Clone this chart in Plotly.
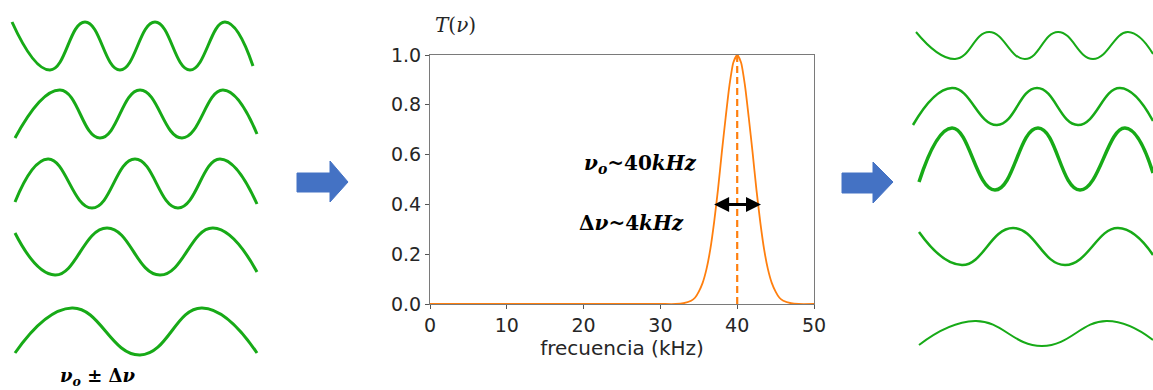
import plotly.graph_objects as go

# ---------------- data: transmission curve T(nu) ----------------
freq_khz = [0, 5, 10, 15, 20, 25, 30, 32, 33, 34, 34.5, 35, 35.5, 36, 36.5, 37, 37.5, 38, 38.5,
            39, 39.5, 40, 40.5, 41, 41.5, 42, 42.5, 43, 43.5, 44, 44.5, 45, 45.5, 46, 47, 48, 50]
transmission = [0, 0, 0, 0, 0, 0, 0, 0, 0.003, 0.013, 0.025, 0.05, 0.085, 0.14, 0.22, 0.33, 0.46,
                0.61, 0.75, 0.88, 0.97, 1.0, 0.97, 0.88, 0.75, 0.61, 0.46, 0.33, 0.22, 0.14, 0.085,
                0.05, 0.025, 0.013, 0.003, 0, 0]
center_khz = 40
band_lo, band_hi, band_level = 36.8, 43.1, 0.4
x_ticks = [0, 10, 20, 30, 40, 50]
y_ticks = [0.0, 0.2, 0.4, 0.6, 0.8, 1.0]

# ---------------- illustration: input waves (left), read as extrema in page pixels ----------------
left_waves = [
    ([12, 50, 85, 120, 155, 190, 225, 253], [22, 70, 22, 70, 22, 70, 22, 66]),
    ([15, 60, 100, 140, 182, 223, 257], [138, 90, 138, 90, 138, 90, 134]),
    ([15, 48, 92, 135, 178, 220, 257], [202, 159, 208, 159, 208, 159, 204]),
    ([15, 55, 107, 160, 213, 257], [233, 275, 228, 275, 228, 272]),
    ([15, 72, 140, 202, 257], [353, 308, 355, 308, 353]),
]
left_widths = [3, 3, 3, 3, 3]

# output waves (right)
right_waves = [
    ([916, 955, 989, 1025, 1058, 1093, 1128, 1153], [32, 59, 32, 59, 32, 59, 32, 54]),
    ([913, 952, 997, 1037, 1078, 1120, 1153], [125, 88, 125, 88, 125, 88, 121]),
    ([919, 952, 995, 1038, 1080, 1125, 1153], [182, 128, 190, 128, 190, 128, 173]),
    ([919, 962, 1013, 1065, 1118, 1153], [232, 265, 228, 265, 228, 255]),
    ([919, 975, 1042, 1107, 1153], [345, 321, 346, 321, 340]),
]
right_widths = [2, 2.5, 3.5, 2.5, 2]

# block arrows (page pixels)
arrow1_x = [297, 330, 330, 348, 330, 330, 297, 297]
arrow1_y = [173, 173, 161, 182, 202, 192, 192, 173]
arrow2_x = [842, 873, 873, 893, 873, 873, 842, 842]
arrow2_y = [173, 173, 162, 182, 203, 193, 193, 173]

W, H = 1153, 390
GREEN = "#17aa17"
ORANGE = "#ff7f0e"
BLUE = "#4472c4"
TXT = "#262626"

fig = go.Figure()

# central chart
fig.add_trace(go.Scatter(x=freq_khz, y=transmission, mode="lines",
                         line=dict(color=ORANGE, width=1.8, shape="spline", smoothing=0.6),
                         cliponaxis=False, xaxis="x", yaxis="y", hoverinfo="skip"))
fig.add_trace(go.Scatter(x=[center_khz, center_khz], y=[0, 1], mode="lines",
                         line=dict(color=ORANGE, width=2.2, dash="7px,4px"),
                         xaxis="x", yaxis="y", hoverinfo="skip"))

# waves
for (xs, ys), w in zip(left_waves + right_waves, left_widths + right_widths):
    fig.add_trace(go.Scatter(x=xs, y=ys, mode="lines",
                             line=dict(color=GREEN, width=w, shape="spline", smoothing=1.3),
                             cliponaxis=False, xaxis="x2", yaxis="y2", hoverinfo="skip"))
# block arrows
for ax_, ay_ in [(arrow1_x, arrow1_y), (arrow2_x, arrow2_y)]:
    fig.add_trace(go.Scatter(x=ax_, y=ay_, mode="lines", fill="toself", fillcolor=BLUE,
                             line=dict(color=BLUE, width=1), xaxis="x2", yaxis="y2",
                             hoverinfo="skip"))

axis_common = dict(showline=True, mirror=True, linecolor="#7a7a7a", linewidth=1,
                   ticks="outside", ticklen=4, tickwidth=1, tickcolor="#555",
                   showgrid=False, zeroline=False, automargin=False,
                   tickfont=dict(family="DejaVu Sans", size=19, color=TXT))

fig.update_layout(
    width=W, height=H, margin=dict(l=0, r=0, t=0, b=0, pad=0, autoexpand=False),
    paper_bgcolor="white", plot_bgcolor="rgba(0,0,0,0)", showlegend=False,
    xaxis=dict(domain=[430 / W, 814 / W], range=[0, 50], tickvals=x_ticks,
               title=dict(text="frecuencia (kHz)", standoff=6,
                          font=dict(family="DejaVu Sans", size=20, color=TXT)),
               anchor="y", **axis_common),
    yaxis=dict(domain=[(H - 304) / H, (H - 55) / H], range=[0, 1], tickvals=y_ticks,
               tickformat=".1f", anchor="x", **axis_common),
    xaxis2=dict(domain=[0, 1], range=[0, W], visible=False, anchor="y2", fixedrange=True),
    yaxis2=dict(domain=[0, 1], range=[H, 0], visible=False, anchor="x2", fixedrange=True),
)

ann = []
# double arrow showing bandwidth
ann.append(dict(x=band_hi, y=band_level, ax=band_lo, ay=band_level, xref="x", yref="y",
                axref="x", ayref="y", text="", showarrow=True, arrowhead=2, arrowside="end+start",
                arrowwidth=3, arrowsize=1, arrowcolor="black", standoff=0, startstandoff=0))
serif = "DejaVu Serif"
ann.append(dict(x=455, y=25, xref="x2", yref="y2", text="<i>T</i>(<i>ν</i>)", showarrow=False,
                font=dict(family=serif, size=20, color=TXT)))
ann.append(dict(x=640, y=164, xref="x2", yref="y2",
                text="<b><i>ν</i><sub><i>o</i></sub>~40<i>kHz</i></b>", showarrow=False,
                font=dict(family=serif, size=20, color="black")))
ann.append(dict(x=631, y=223, xref="x2", yref="y2",
                text="<b>Δ<i>ν</i>~4<i>kHz</i></b>", showarrow=False,
                font=dict(family=serif, size=20, color="black")))
ann.append(dict(x=98, y=377, xref="x2", yref="y2",
                text="<b><i>ν</i><sub><i>o</i></sub> ± Δ<i>ν</i></b>", showarrow=False,
                font=dict(family=serif, size=18, color="black")))
fig.update_layout(annotations=ann)

fig.write_html("out.html")
